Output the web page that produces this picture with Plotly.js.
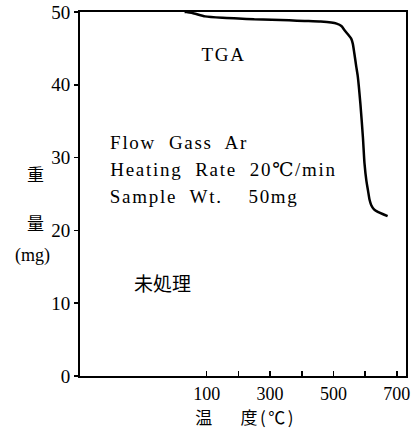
<!DOCTYPE html>
<html>
<head>
<meta charset="utf-8">
<script src="https://cdn.plot.ly/plotly-3.0.1.min.js"></script>
<style>
html,body{margin:0;padding:0;background:#fff;}
#chart{width:415px;height:429px;}
g.annotation[data-index="0"] text, g.annotation[data-index="1"] text, g.annotation[data-index="2"] text, g.annotation[data-index="3"] text{letter-spacing:1.7px;}
g.annotation[data-index="8"] text{letter-spacing:2.5px;}
</style>
</head>
<body>
<div id="chart"></div>
<script>
// Temperature (°C) and weight (mg)
const temperature = [30, 37, 60, 95, 150, 200, 250, 305, 360, 409, 460, 493, 510, 525, 535, 548, 556, 561, 566, 572, 577, 585, 593, 598, 604, 609, 614, 619, 628, 640, 655, 671];
const weight      = [50.0, 50.0, 49.8, 49.4, 49.2, 49.1, 49.0, 48.95, 48.85, 48.77, 48.68, 48.55, 48.4, 48.08, 47.5, 46.8, 46.35, 45.66, 44.3, 42.5, 41.1, 37.4, 32.8, 29.2, 26.8, 25.5, 24.2, 23.5, 22.9, 22.55, 22.25, 21.96];
const xTickVals  = [100, 200, 300, 400, 500, 600, 700];
const xTickText  = ["100", "", "300", "", "500", "", "700"];
const yTickVals  = [0, 10, 20, 30, 40, 50];
const infoLines  = ["Flow\u00a0 Gass\u00a0 Ar", "Heating\u00a0 Rate\u00a0 20℃/min", "Sample\u00a0 Wt.\u00a0\u00a0\u00a0 50mg"];
const xTitle     = "温\u3000\u00a0度(℃)";

const serif = "Liberation Serif, DejaVu Serif, serif";
const jp = "Noto Sans CJK JP";
const LS = 1.7;   // letter spacing of the info lines (CSS above)
const LSX = 2.5;  // letter spacing of the x title (CSS above)

const trace = {
  x: temperature, y: weight, type: "scatter", mode: "lines",
  line: {color: "#000", width: 2.5, shape: "spline", smoothing: 0.6},
  hoverinfo: "skip"
};

const infoY = [0.642, 0.566, 0.492];
const infoAnn = infoLines.map((t, i) => ({
  text: t, xref: "paper", yref: "paper", x: 0.086, y: infoY[i], showarrow: false,
  xanchor: "left", yanchor: "middle", xshift: t.length * LS / 2,
  font: {family: serif, size: 19}
}));

const layout = {
  width: 415, height: 429,
  margin: {l: 80, r: 9, t: 12, b: 53},
  paper_bgcolor: "#fff", plot_bgcolor: "#fff",
  showlegend: false,
  font: {family: serif, color: "#000", size: 17},
  xaxis: {
    range: [-300, 729], showgrid: false, zeroline: false,
    showline: true, linecolor: "#000", linewidth: 2, mirror: true,
    ticks: "inside", ticklen: 5, tickwidth: 1.5, tickcolor: "#000",
    tickvals: xTickVals, ticktext: xTickText,
    tickfont: {family: serif, size: 18, color: "#000"}
  },
  yaxis: {
    range: [0, 50], showgrid: false, zeroline: false,
    showline: true, linecolor: "#000", linewidth: 2, mirror: true,
    ticks: "outside", ticklen: 4, tickwidth: 1.5, tickcolor: "#000",
    tickvals: yTickVals,
    tickfont: {family: serif, size: 19, color: "#000"}
  },
  annotations: [
    {text: "TGA", xref: "paper", yref: "paper", x: 0.439, y: 0.882, showarrow: false, xanchor: "center", yanchor: "middle", font: {family: serif, size: 19}},
    ...infoAnn,
    {text: "未処理", xref: "paper", yref: "paper", x: 0.160, y: 0.258, showarrow: false, xanchor: "left", yanchor: "middle", font: {family: jp, size: 19}},
    {text: "重", xref: "paper", yref: "paper", x: -0.138, y: 0.557, showarrow: false, xanchor: "center", yanchor: "middle", font: {family: jp, size: 17}},
    {text: "量", xref: "paper", yref: "paper", x: -0.138, y: 0.423, showarrow: false, xanchor: "center", yanchor: "middle", font: {family: jp, size: 17}},
    {text: "(mg)", xref: "paper", yref: "paper", x: -0.147, y: 0.330, showarrow: false, xanchor: "center", yanchor: "middle", font: {family: serif, size: 18}},
    {text: xTitle, xref: "paper", yref: "paper", x: 0.347, y: -0.112, showarrow: false, xanchor: "left", yanchor: "middle", xshift: xTitle.length * LSX / 2, font: {family: jp, size: 17}}
  ]
};

Plotly.newPlot("chart", [trace], layout, {displayModeBar: false, staticPlot: true});
</script>
</body>
</html>
